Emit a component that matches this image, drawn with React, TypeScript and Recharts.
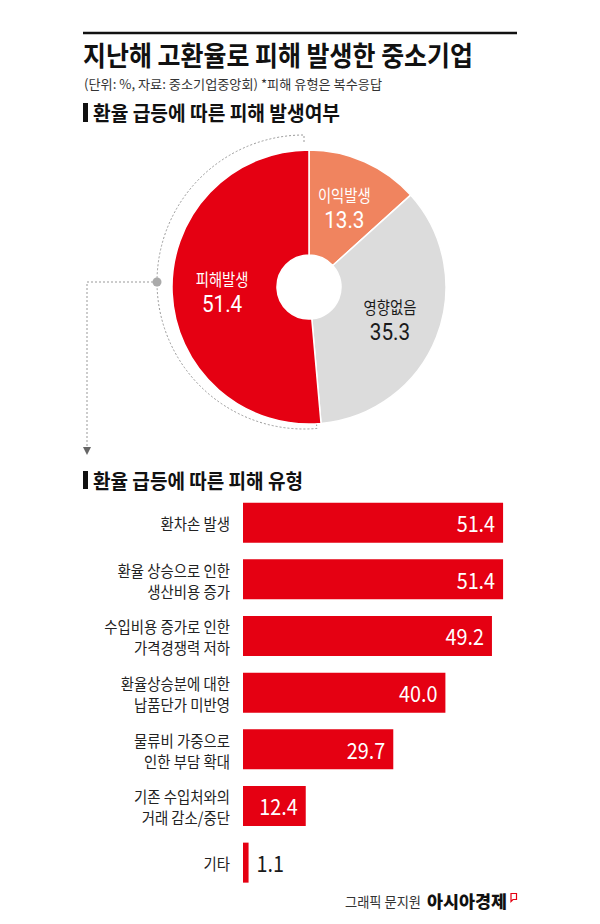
import React from 'react';
import { PieChart, Pie, Cell, BarChart, Bar, XAxis, YAxis, LabelList } from 'recharts';

const FONT = '"Noto Sans CJK KR", "Noto Sans", sans-serif';
const NUM_FONT = 'Roboto, "Noto Sans", sans-serif';

const titleText = '지난해 고환율로 피해 발생한 중소기업';
const subtitleText = '(단위: %, 자료: 중소기업중앙회) *피해 유형은 복수응답';
const section1Text = '환율 급등에 따른 피해 발생여부';
const section2Text = '환율 급등에 따른 피해 유형';
const creditText = '그래픽 문지원';
const brandText = '아시아경제';

const pieNames = ['이익발생', '영향없음', '피해발생'];
const pieValues = [13.3, 35.3, 51.4];
const pieColors = ['#F0845F', '#DCDCDC', '#E50012'];
const pieTextColors = ['#FFFFFF', '#1A1A1A', '#FFFFFF'];

const barCategories = [
  '환차손 발생',
  '환율 상승으로 인한\n생산비용 증가',
  '수입비용 증가로 인한\n가격경쟁력 저하',
  '환율상승분에 대한\n납품단가 미반영',
  '물류비 가중으로\n인한 부담 확대',
  '기존 수입처와의\n거래 감소/중단',
  '기타',
];
const barValues = [51.4, 51.4, 49.2, 40.0, 29.7, 12.4, 1.1];

const pieData = pieNames.map((name, i) => ({ name, value: pieValues[i] }));
const barData = barCategories.map((name, i) => ({ name, value: barValues[i] }));

const RED = '#E50012';

// pie geometry (page coordinates)
const PIE_TOP = 120;
const PIE_CX = 304;
const PIE_CY = 282;
const PIE_R = 137;
const ARC_R = 147;

const RAD = Math.PI / 180;

const renderPieLabel = (props: any) => {
  const { cx, cy, midAngle, index } = props;
  const r = 87;
  const x = cx + r * Math.cos(-midAngle * RAD);
  const y = cy + r * Math.sin(-midAngle * RAD);
  const color = pieTextColors[index];
  return (
    <g>
      <text
        transform={`translate(${x},${y - 12.5}) scale(0.87,1)`}
        textAnchor="middle"
        dominantBaseline="central"
        fontSize={16.5}
        fill={color}
        fontFamily={FONT}
      >
        {pieNames[index]}
      </text>
      <text
        transform={`translate(${x},${y + 13}) scale(0.9,1)`}
        textAnchor="middle"
        dominantBaseline="central"
        fontSize={23}
        fill={color}
        fontFamily={NUM_FONT}
      >
        {pieValues[index].toFixed(1)}
      </text>
    </g>
  );
};

const CategoryTick = (props: any) => {
  const { x, y, payload } = props;
  const lines = String(payload.value).split('\n');
  const lh = 21;
  const start = y - ((lines.length - 1) * lh) / 2;
  return (
    <g>
      {lines.map((ln, i) => (
        <text
          key={i}
          transform={`translate(${x},${start + i * lh}) scale(0.9,1)`}
          textAnchor="end"
          dominantBaseline="central"
          fontSize={16}
          fill="#222"
          fontFamily={FONT}
        >
          {ln}
        </text>
      ))}
    </g>
  );
};

const renderBarLabel = (props: any) => {
  const { x, y, width, height, value } = props;
  const cy = y + height / 2;
  const inside = width > 30;
  const tx = inside ? x + width - 8 : x + width + 8;
  return (
    <text
      transform={`translate(${tx},${cy}) scale(0.9,1)`}
      textAnchor={inside ? 'end' : 'start'}
      dominantBaseline="central"
      fontSize={22}
      fill={inside ? '#FFFFFF' : '#1A1A1A'}
      fontFamily={FONT}
    >
      {Number(value).toFixed(1)}
    </text>
  );
};

function Decorations() {
  const total = pieValues.reduce((a, b) => a + b, 0);
  const before = pieValues[0] + pieValues[1];
  const endAngle = 90 - (360 * before) / total; // start angle of red slice
  const p = (ang: number, r: number) => [PIE_CX + r * Math.cos(ang * RAD), PIE_CY - r * Math.sin(ang * RAD)];
  const [sx, sy] = p(90, ARC_R);
  const [ex, ey] = p(endAngle, ARC_R);
  const [sx2, sy2] = p(90, PIE_R + 3);
  const [ex2, ey2] = p(endAngle, PIE_R + 3);
  const [dx, dy] = p(180, ARC_R);
  const arrowX = 87;
  const arrowBottom = 455;
  return (
    <svg width={600} height={924} style={{ position: 'absolute', left: 0, top: 0 }}>
      <line x1={83} y1={33} x2={517} y2={33} stroke="#111" strokeWidth={2.5} />
      <text x={83} y={66.3} textLength={390} lengthAdjust="spacingAndGlyphs" fontSize={27} fontWeight={700} fill="#111" fontFamily={FONT}>
        {titleText}
      </text>
      <text x={84} y={89.3} textLength={298} lengthAdjust="spacingAndGlyphs" fontSize={13} fill="#333" fontFamily={FONT}>
        {subtitleText}
      </text>
      <rect x={83} y={103} width={5} height={19} fill="#111" />
      <text x={93} y={112} textLength={247} lengthAdjust="spacingAndGlyphs" fontSize={20} fontWeight={700} fill="#111" dominantBaseline="central" fontFamily={FONT}>
        {section1Text}
      </text>
      <rect x={83} y={471} width={5} height={18} fill="#111" />
      <text x={93} y={480} textLength={210} lengthAdjust="spacingAndGlyphs" fontSize={20} fontWeight={700} fill="#111" dominantBaseline="central" fontFamily={FONT}>
        {section2Text}
      </text>

      {/* dashed arc around the red slice */}
      <path
        d={`M${sx2},${sy2} L${sx},${sy} A${ARC_R},${ARC_R} 0 1 0 ${ex},${ey} L${ex2},${ey2}`}
        fill="none"
        stroke="#999"
        strokeWidth={1}
        strokeDasharray="2 2"
      />
      <path
        d={`M${dx - 4},${dy} L${arrowX},${dy} L${arrowX},${arrowBottom - 7}`}
        fill="none"
        stroke="#999"
        strokeWidth={1}
        strokeDasharray="2 2"
      />
      <circle cx={dx} cy={dy} r={4.5} fill="#AAAAAA" />
      <path d={`M${arrowX - 4},${arrowBottom - 8} L${arrowX + 4},${arrowBottom - 8} L${arrowX},${arrowBottom} Z`} fill="#666" />

      {/* footer */}
      <text x={345} y={901} textLength={76} lengthAdjust="spacingAndGlyphs" fontSize={14} fill="#333" dominantBaseline="central" fontFamily={FONT}>
        {creditText}
      </text>
      <text x={427} y={900} textLength={80} lengthAdjust="spacingAndGlyphs" fontSize={17} fontWeight={900} fill="#111" dominantBaseline="central" fontFamily={FONT}>
        {brandText}
      </text>
      <path d="M511,893.5 L516.5,893.5 L516.5,899.5 L513,899.5 L511,901.5 Z" fill="none" stroke={RED} strokeWidth={1.2} />
    </svg>
  );
}

export default function App() {
  return (
    <div
      style={{
        position: 'absolute',
        left: 0,
        top: 0,
        width: 600,
        height: 924,
        background: '#fff',
        overflow: 'hidden',
        fontFamily: FONT,
      }}
    >
      <Decorations />
      <div style={{ position: 'absolute', left: 0, top: PIE_TOP }}>
        <PieChart width={600} height={340}>
          <Pie
            data={pieData}
            dataKey="value"
            nameKey="name"
            cx={PIE_CX}
            cy={PIE_CY - PIE_TOP}
            innerRadius={32}
            outerRadius={PIE_R}
            startAngle={90}
            endAngle={-270}
            stroke="#fff"
            strokeWidth={1.5}
            label={renderPieLabel}
            labelLine={false}
            isAnimationActive={false}
          >
            {pieData.map((d, i) => (
              <Cell key={d.name} fill={pieColors[i]} />
            ))}
          </Pie>
        </PieChart>
      </div>
      <div style={{ position: 'absolute', left: 0, top: 480 }}>
        <BarChart
          width={600}
          height={420}
          data={barData}
          layout="vertical"
          margin={{ top: 14.7, right: 53.4, bottom: 8.7, left: 0 }}
        >
          <XAxis type="number" domain={[0, 60]} hide allowDataOverflow />
          <YAxis
            type="category"
            dataKey="name"
            width={243}
            axisLine={false}
            tickLine={false}
            tickSize={0}
            tickMargin={13}
            interval={0}
            tick={<CategoryTick />}
          />
          <Bar dataKey="value" fill={RED} barSize={40} isAnimationActive={false}>
            <LabelList dataKey="value" content={renderBarLabel} />
          </Bar>
        </BarChart>
      </div>
    </div>
  );
}
